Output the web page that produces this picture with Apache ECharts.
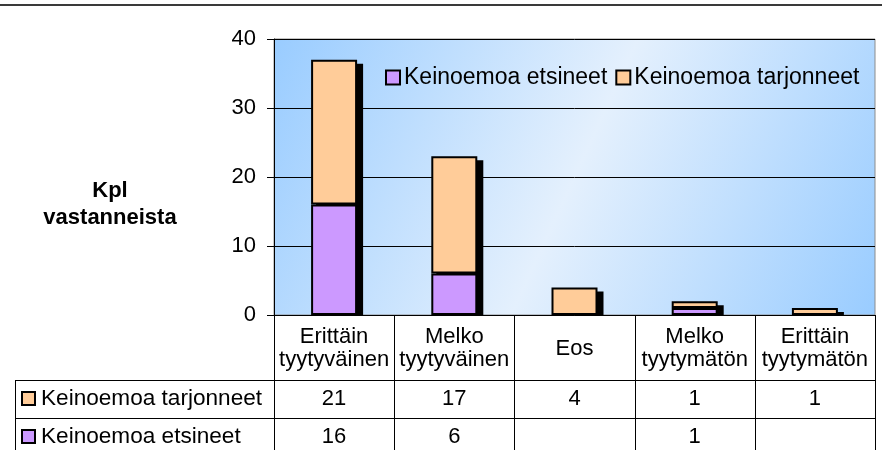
<!DOCTYPE html>
<html>
<head>
<meta charset="utf-8">
<script src="https://cdn.jsdelivr.net/npm/echarts@6/dist/echarts.min.js"></script>
<style>
  html, body { margin: 0; padding: 0; background: #fff; }
  #main { width: 882px; height: 450px; }
</style>
</head>
<body>
<div id="main"></div>
<script>
// luokat ja sarjat
var categories = ['Erittäin\ntyytyväinen', 'Melko\ntyytyväinen', 'Eos', 'Melko\ntyytymätön', 'Erittäin\ntyytymätön'];
var etsineet = [16, 6, null, 1, null];
var tarjonneet = [21, 17, 4, 1, 1];
var seriesNames = ['Keinoemoa etsineet', 'Keinoemoa tarjonneet'];
var yMin = 0, yMax = 40, yStep = 10;

var FONT = "'Liberation Sans', Arial, sans-serif";
var FS = 22;
var PURPLE = '#CC99FF', ORANGE = '#FFCC99';
var BAR_W = 46;

var myChart = echarts.init(document.getElementById('main'), null, { renderer: 'canvas' });

var barStyle = function (color) {
    return { color: color, borderColor: '#000', borderWidth: 2 };
};

myChart.setOption({
    animation: false,
    textStyle: { fontFamily: FONT },
    title: {
        text: 'Kpl\nvastanneista',
        left: 105,
        top: 172,
        textAlign: 'center',
        textStyle: { fontFamily: FONT, fontSize: 22, fontWeight: 'bold', color: '#000', lineHeight: 27 }
    },
    legend: {
        left: 380,
        top: 61,
        itemWidth: 14,
        itemHeight: 14,
        itemGap: 8,
        icon: 'rect',
        data: seriesNames,
        textStyle: { fontFamily: FONT, fontSize: 23, color: '#000', padding: [0, 0, 0, -1] },
        itemStyle: { borderColor: '#000', borderWidth: 2 }
    },
    grid: {
        left: 274,
        right: 7,
        top: 39,
        bottom: 135,
        show: true,
        borderColor: '#8c8c8c',
        borderWidth: 1,
        backgroundColor: new echarts.graphic.LinearGradient(0, 0, 1, 1, [
            { offset: 0, color: '#99CCFF' },
            { offset: 0.5, color: '#E4F0FD' },
            { offset: 1, color: '#99CCFF' }
        ])
    },
    xAxis: {
        type: 'category',
        data: categories,
        axisLine: { lineStyle: { color: '#000', width: 1 } },
        axisTick: { show: false },
        axisLabel: { show: false }
    },
    yAxis: {
        type: 'value',
        min: yMin,
        max: yMax,
        interval: yStep,
        axisLine: { show: true, lineStyle: { color: '#000', width: 1 } },
        axisTick: { show: true, length: 7, lineStyle: { color: '#000' } },
        axisLabel: { fontFamily: FONT, fontSize: FS, color: '#000', margin: 18 },
        splitLine: { lineStyle: { color: '#000', width: 1 } }
    },
    series: [
        {
            // pylväiden varjo
            type: 'custom',
            z: 1,
            silent: true,
            data: categories.map(function (c, i) { return [i, etsineet[i] || 0, tarjonneet[i] || 0]; }),
            renderItem: function (params, api) {
                var top = api.coord([api.value(0), api.value(1) + api.value(2)]);
                var base = api.coord([api.value(0), 0]);
                return {
                    type: 'rect',
                    shape: { x: top[0] - BAR_W / 2 + 5, y: top[1] + 4, width: BAR_W + 1, height: base[1] - top[1] - 4 },
                    style: { fill: '#000' }
                };
            }
        },
        {
            name: seriesNames[0],
            type: 'bar',
            stack: 'kpl',
            barWidth: BAR_W,
            z: 3,
            itemStyle: barStyle(PURPLE),
            data: etsineet
        },
        {
            name: seriesNames[1],
            type: 'bar',
            stack: 'kpl',
            barWidth: BAR_W,
            z: 2,
            itemStyle: barStyle(ORANGE),
            data: tarjonneet
        }
    ]
});

// taulukko kaavion alle
function drawTable() {
    var c0 = myChart.convertToPixel({ xAxisIndex: 0 }, 0);
    var c1 = myChart.convertToPixel({ xAxisIndex: 0 }, 1);
    var half = (c1 - c0) / 2;
    var y0 = Math.round(myChart.convertToPixel({ yAxisIndex: 0 }, 0));
    var rowTop = [y0, 380, 418, 456];
    var leftX = 15;
    var rightX = Math.round(c0 - half + half * 2 * categories.length);
    var g = [];
    var line = function (x1, y1, x2, y2, color, w) {
        g.push({ type: 'line', z: 101, shape: { x1: x1, y1: y1, x2: x2, y2: y2 },
            style: { stroke: color || '#000', lineWidth: w || 1 } });
    };
    var text = function (s, x, y, align, size) {
        g.push({ type: 'text', z: 102, style: { text: s, x: x, y: y, align: align || 'center', verticalAlign: 'middle',
            font: (size || FS) + 'px ' + FONT, fill: '#000', lineHeight: 23 } });
    };
    // yläreunan viiva
    line(0, 5, 882, 5, '#3a3a3a', 2);
    for (var i = 0; i <= categories.length; i++) {
        var bx = Math.round(c0 - half + half * 2 * i) + 0.5;
        line(bx, y0, bx, 452);
    }
    line(leftX + 0.5, rowTop[1], leftX + 0.5, 452);
    line(leftX, rowTop[1] + 0.5, rightX, rowTop[1] + 0.5);
    line(leftX, rowTop[2] + 0.5, rightX, rowTop[2] + 0.5);
    categories.forEach(function (cat, i) {
        var cx = myChart.convertToPixel({ xAxisIndex: 0 }, i);
        text(cat, cx, (rowTop[0] + rowTop[1]) / 2 + 1);
    });
    var rows = [
        { name: seriesNames[1], color: ORANGE, data: tarjonneet },
        { name: seriesNames[0], color: PURPLE, data: etsineet }
    ];
    rows.forEach(function (r, k) {
        var cy = (rowTop[k + 1] + rowTop[k + 2]) / 2;
        g.push({ type: 'rect', z: 102, shape: { x: 22, y: cy - 7, width: 13, height: 13 },
            style: { fill: r.color, stroke: '#000', lineWidth: 2 } });
        text(r.name, 41, cy, 'left', 22.6);
        r.data.forEach(function (v, i) {
            var cx = myChart.convertToPixel({ xAxisIndex: 0 }, i);
            text(v == null ? '' : String(v), cx, cy);
        });
    });
    myChart.setOption({ graphic: g });
}
drawTable();
</script>
</body>
</html>
